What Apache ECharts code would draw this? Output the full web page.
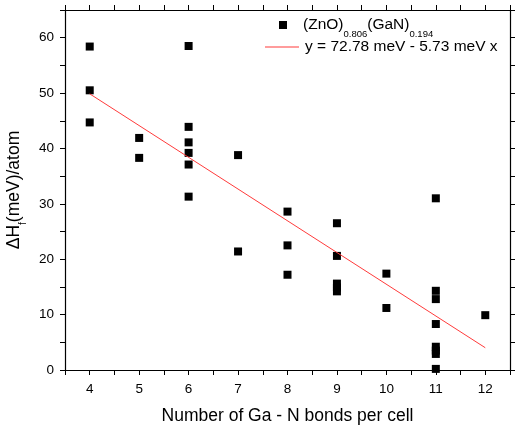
<!DOCTYPE html>
<html>
<head>
<meta charset="utf-8">
<script src="https://cdn.jsdelivr.net/npm/echarts@6/dist/echarts.min.js"></script>
<style>
  html, body { margin: 0; padding: 0; background: #fff; }
  #chart { width: 516px; height: 428px; }
</style>
</head>
<body>
<div id="chart"></div>
<script>
// bonds per cell vs formation enthalpy
const bonds = [4, 4, 4, 5, 5, 6, 6, 6, 6, 6, 6, 7, 7, 8, 8, 8, 9, 9, 9, 9, 9, 10, 10, 11, 11, 11, 11, 11, 11, 11, 11, 12]
const enthalpy = [58.4, 50.5, 44.7, 41.9, 38.3, 58.5, 43.9, 41.1, 39.2, 37.1, 31.3, 38.8, 21.4, 28.6, 22.5, 17.2,
  26.5, 20.6, 15.6, 14.9, 14.2, 17.4, 11.2, 31.0, 14.3, 12.8, 8.3, 4.2, 3.5, 2.9, 0.2, 9.9]

// fitted line endpoints
const fitX = [4, 12]
const fitY = [49.86, 4.02]

const xTicks = [4, 5, 6, 7, 8, 9, 10, 11, 12]
const yTicks = [0, 10, 20, 30, 40, 50, 60]

const font = 'Liberation Sans, Arial, sans-serif'
const scatterName = 'zno'
const fitName = 'fit'

const chart = echarts.init(document.getElementById('chart'), null, { renderer: 'canvas' })

const axisLine = { show: true, onZero: false, lineStyle: { color: '#000', width: 1.2 } }
const xCommon = {
  type: 'value', min: 3.5, max: 12.5, interval: 0.5,
  axisLine,
  axisTick: { show: true, length: 5, lineStyle: { color: '#000' } },
  splitLine: { show: false }
}
const yCommon = {
  type: 'value', min: 0, max: 65, interval: 5,
  axisLine,
  axisTick: { show: true, length: 5, lineStyle: { color: '#000' } },
  splitLine: { show: false }
}

chart.setOption({
  animation: false,
  backgroundColor: '#fff',
  grid: { left: 65, right: 6, top: 10, bottom: 58, containLabel: false, outerBoundsMode: 'none' },
  xAxis: [
    {
      ...xCommon,
      position: 'bottom',
      name: 'Number of Ga - N bonds per cell',
      nameLocation: 'middle',
      nameGap: 37,
      nameTextStyle: { fontFamily: font, fontSize: 17.5, color: '#000' },
      axisLabel: {
        margin: 12, fontFamily: font, fontSize: 13.5, color: '#000',
        formatter: (v) => (xTicks.includes(v) ? String(v) : '')
      }
    },
    { ...xCommon, position: 'top', axisLabel: { show: false } }
  ],
  yAxis: [
    {
      ...yCommon,
      position: 'left',
      name: '{a|ΔH}{s|f}{a|(meV)/atom}',
      nameLocation: 'middle',
      nameGap: 36,
      nameRotate: 90,
      nameTextStyle: {
        fontFamily: font, fontSize: 17.5, color: '#000',
        rich: {
          a: { fontFamily: font, fontSize: 17.5, color: '#000' },
          s: { fontFamily: font, fontSize: 10, color: '#000', verticalAlign: 'bottom', padding: [0, 0, -5, 0] }
        }
      },
      axisLabel: {
        margin: 11, fontFamily: font, fontSize: 13.5, color: '#000',
        formatter: (v) => (yTicks.includes(v) ? String(v) : '')
      }
    },
    { ...yCommon, position: 'right', axisLabel: { show: false } }
  ],
  legend: [
    {
      data: [scatterName],
      left: 279, top: 17, padding: 0,
      icon: 'rect', itemWidth: 8, itemHeight: 8, itemGap: 0,
      formatter: () => '{f|(ZnO)}{s|0.806}{a|(GaN)}{s|0.194}',
      textStyle: {
        fontFamily: font, fontSize: 15.5, color: '#000',
        rich: {
          f: { fontFamily: font, fontSize: 15.5, color: '#000', padding: [0, 0, 0, 11] },
          a: { fontFamily: font, fontSize: 15.5, color: '#000', padding: [0, 0, 0, 0] },
          s: { fontFamily: font, fontSize: 9.5, color: '#000', verticalAlign: 'bottom', padding: [0, 0, -6, 0] }
        }
      }
    },
    {
      data: [fitName],
      left: 265, top: 39, padding: 0,
      icon: 'rect', itemWidth: 34, itemHeight: 1, itemGap: 0,
      formatter: () => 'y = 72.78 meV - 5.73 meV x',
      textStyle: { fontFamily: font, fontSize: 15.5, color: '#000', padding: [0, 0, 0, 1] }
    }
  ],
  series: [
    {
      name: scatterName,
      type: 'scatter',
      symbol: 'rect',
      symbolSize: 8,
      itemStyle: { color: '#000', opacity: 1 },
      data: bonds.map((b, i) => [b, enthalpy[i]]),
      z: 3
    },
    {
      name: fitName,
      type: 'line',
      symbol: 'none',
      lineStyle: { color: '#ff3b3b', width: 1 },
      itemStyle: { color: '#ff3b3b' },
      data: fitX.map((x, i) => [x, fitY[i]]),
      z: 4
    }
  ]
})
</script>
</body>
</html>
